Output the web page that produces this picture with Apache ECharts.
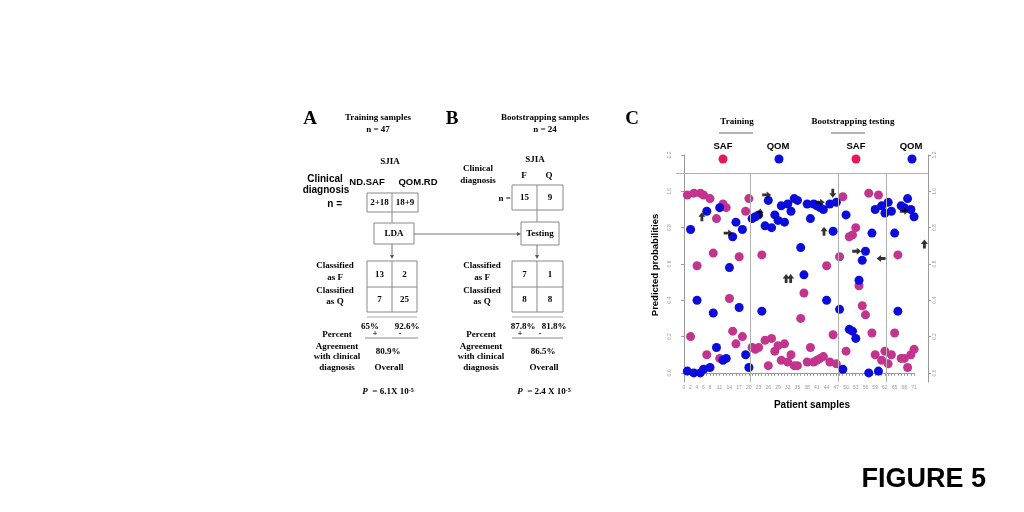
<!DOCTYPE html>
<html><head><meta charset="utf-8">
<script src="https://cdn.jsdelivr.net/npm/echarts@6/dist/echarts.min.js"></script>
<style>html,body{margin:0;padding:0;background:#fff}#c{width:1024px;height:512px}</style>
</head><body><div id="c"></div>
<script>
// Panel C data: predicted probability of SAF (pink) and QOM (blue) for samples 1..71
const probSAF = [0.98,0.20,0.99,0.59,0.99,0.98,0.10,0.96,0.66,0.85,0.08,0.93,0.91,0.41,0.23,0.16,0.64,0.20,0.89,0.96,
  0.14,0.13,0.14,0.65,0.18,0.04,0.19,0.12,0.15,0.07,0.16,0.06,0.10,0.04,0.04,0.30,0.44,0.06,0.14,0.06,0.07,0.08,0.09,0.59,0.06,0.21,0.05,
  0.64,0.97,0.12,0.75,0.76,0.80,0.48,0.37,0.32,0.99,0.22,0.10,0.98,0.07,0.12,
  0.05,0.10,0.22,0.65,0.08,0.08,0.03,0.10,0.13];
const probQOM = [0.01,0.79,0.00,0.40,0.00,0.02,0.89,0.03,0.33,0.14,0.91,0.07,0.08,0.58,0.75,0.83,0.36,0.79,0.10,0.03,
  0.85,0.86,0.87,0.34,0.81,0.95,0.80,0.87,0.84,0.92,0.83,0.93,0.89,0.96,0.95,0.69,0.54,0.93,0.85,0.93,0.92,0.91,0.90,0.40,0.93,0.78,0.94,
  0.35,0.02,0.87,0.24,0.23,0.19,0.51,0.62,0.67,0.00,0.77,0.90,0.01,0.92,0.88,
  0.94,0.89,0.77,0.34,0.92,0.91,0.96,0.90,0.86];
// group boundaries (between samples)
const groupBounds = [20.5, 47.5, 62.5];
const topLineValue = 1.1;
const xTickLabels = [0,2,4,6,8,11,14,17,20,23,26,29,32,35,38,41,44,47,50,53,56,59,62,65,68,71];
const yTickValues = [0,0.2,0.4,0.6,0.8,1.0,1.2];
// annotation arrows: [sample position, probability, direction]
const arrowMarks = [[5.5,0.86,'up'],[13.6,0.77,'right'],[25.5,0.98,'right'],[23.5,0.88,'up'],[45.9,0.99,'down'],
  [42,0.94,'right'],[43.2,0.78,'up'],[31.5,0.52,'up'],[32.9,0.52,'up'],[53.3,0.67,'right'],[60.8,0.63,'left'],
  [68,0.89,'right'],[74.2,0.71,'up']];

const PINK = '#c2348e', BLUE = '#0b0bdc', LPINK = '#e6175f';
const SERIF = '"Liberation Serif", "DejaVu Serif", serif';
const SANS = '"Liberation Sans", Arial, sans-serif';
const rotMap = {right:0, up:90, left:180, down:-90};

function T(x, y, text, o) {
  o = o || {};
  return {type:'text', x:x, y:y, rotation:o.rot||0, silent:true, style:{
    x:0, y:0, text:text, fill:o.fill||'#000',
    fontFamily:o.ff||SERIF, fontSize:o.fs||9, fontWeight:o.fw||'bold', fontStyle:o.fst||'normal',
    textAlign:o.align||'center', textVerticalAlign:'middle', rich:o.rich}};
}
function L(x1,y1,x2,y2,c){ return {type:'line', silent:true, shape:{x1,y1,x2,y2}, style:{stroke:c||'#888', lineWidth:1}}; }
function R(x,y,w,h){ return {type:'rect', silent:true, shape:{x,y,width:w,height:h}, style:{fill:'none', stroke:'#888', lineWidth:1}}; }
function headDown(x,y){ return {type:'polygon', silent:true, shape:{points:[[x-2,y-4],[x+2,y-4],[x,y]]}, style:{fill:'#555'}}; }
function headRight(x,y){ return {type:'polygon', silent:true, shape:{points:[[x-4,y-2],[x-4,y+2],[x,y]]}, style:{fill:'#555'}}; }
const S = {fs:9};
const sans = {ff:SANS, fs:9.5};
const pRich = {i:{fontFamily:SERIF, fontSize:9, fontWeight:'bold', fontStyle:'italic'},
               n:{fontFamily:SERIF, fontSize:9, fontWeight:'bold'},
               s:{fontFamily:SERIF, fontSize:6, fontWeight:'bold', verticalAlign:'top'}};

const g = [
  // ---- Panel A ----
  T(310,119,'A',{fs:19}),
  T(378,118,'Training samples'), T(378,130,'n = 47'),
  T(390,162,'SJIA'),
  T(325,179,'Clinical',{ff:SANS,fs:10}), T(326,190,'diagnosis',{ff:SANS,fs:10}), T(342,204,'n =',{ff:SANS,fs:10,align:'right'}),
  T(367,182,'ND.SAF',sans), T(418,182,'QOM.RD',sans),
  R(367,193,51,19), L(392,193,392,212),
  T(379.5,202.5,'2+18'), T(405,202.5,'18+9'),
  L(392,212,392,223),
  R(374,223,40,21), T(394,234,'LDA'),
  L(414,234,519,234,'#777'), headRight(521,234),
  L(392,244,392,255,'#777'), headDown(392,259),
  R(367,261,50,51), L(367,287,417,287), L(392,261,392,312),
  T(379.5,275,'13'), T(404.5,275,'2'), T(379.5,300,'7'), T(404.5,300,'25'),
  T(335,266,'Classified'), T(335,278,'as F'), T(335,291,'Classified'), T(335,302,'as Q'),
  L(367,317,417,317,'#aaa'),
  T(370,327,'65%'), T(407,327,'92.6%'),
  T(337,335,'Percent'), T(375,334,'+'), T(400,334,'-'),
  L(365,338,418,338,'#888'),
  T(337,347,'Agreement'), T(337,357,'with clinical'), T(337,368,'diagnosis'),
  T(388,352,'80.9%'), T(389,368,'Overall'),
  T(388,392,'{i|P} {n| = 6.1X 10}{s|-5}',{rich:pRich}),
  // ---- Panel B ----
  T(452,119,'B',{fs:19}),
  T(545,118,'Bootstrapping samples'), T(545,130,'n = 24'),
  T(535,160,'SJIA'),
  T(478,169,'Clinical'), T(478,181,'diagnosis'),
  T(524,176,'F'), T(549,176,'Q'),
  T(511,199,'n =',{align:'right'}),
  R(512,185,51,25), L(537,185,537,210),
  T(524.5,198,'15'), T(550,198,'9'),
  L(537,210,537,222),
  R(521,222,38,23), T(540,234,'Testing'),
  L(537,245,537,255,'#777'), headDown(537,259),
  R(512,261,51,51), L(512,287,563,287), L(537,261,537,312),
  T(524.5,275,'7'), T(550,275,'1'), T(524.5,300,'8'), T(550,300,'8'),
  T(482,266,'Classified'), T(482,278,'as F'), T(482,291,'Classified'), T(482,302,'as Q'),
  L(512,317,563,317,'#aaa'),
  T(523,327,'87.8%'), T(554,327,'81.8%'),
  T(481,335,'Percent'), T(520,334,'+'), T(540,334,'-'),
  L(512,338,563,338,'#888'),
  T(481,347,'Agreement'), T(481,357,'with clinical'), T(481,368,'diagnosis'),
  T(543,352,'86.5%'), T(544,368,'Overall'),
  T(544,392,'{i|P} {n| = 2.4 X 10}{s|-5}',{rich:pRich}),
  // ---- Panel C decorations ----
  T(632,119,'C',{fs:19}),
  T(737,122,'Training'), L(719,133,753,133,'#666'),
  T(853,122,'Bootstrapping testing'), L(831,133,865,133,'#666'),
  T(723,146,'SAF',sans), {type:'circle', silent:true, shape:{cx:723,cy:159,r:4.5}, style:{fill:LPINK}},
  T(778,146,'QOM',sans), {type:'circle', silent:true, shape:{cx:779,cy:159,r:4.5}, style:{fill:BLUE}},
  T(856,146,'SAF',sans), {type:'circle', silent:true, shape:{cx:856,cy:159,r:4.5}, style:{fill:LPINK}},
  T(911,146,'QOM',sans), {type:'circle', silent:true, shape:{cx:912,cy:159,r:4.5}, style:{fill:BLUE}},
  T(655,265,'Predicted probabilities',{ff:SANS,fs:9.5,rot:Math.PI/2}),
  T(812,405,'Patient samples',{ff:SANS,fs:10}),
  T(986,480,'FIGURE 5',{ff:SANS,fs:27,align:'right'})
];

const chart = echarts.init(document.getElementById('c'), null, {renderer:'canvas'});
const axisGray = '#9a9a9a';
const yAxisCommon = {
  type:'value', min:-0.05, max:1.2, gridIndex:0,
  axisLine:{show:true, lineStyle:{color:axisGray}},
  axisTick:{show:true, customValues:yTickValues, length:3, lineStyle:{color:axisGray}},
  axisLabel:{customValues:yTickValues, rotate:90, fontSize:5, color:'#999', margin:4, formatter:v=>v.toFixed(1)},
  splitLine:{show:false}
};
chart.setOption({
  animation:false,
  backgroundColor:'#fff',
  grid:[{left:676, top:155, width:252, height:227},
        {left:684, top:155, width:230, height:227}],
  xAxis:[
    {gridIndex:0, type:'value', min:-2.5, max:75.3, show:false},
    {gridIndex:1, type:'value', min:0, max:71, interval:1,
     axisLine:{show:true, lineStyle:{color:axisGray}},
     axisTick:{show:true, length:3, lineStyle:{color:axisGray}},
     axisLabel:{fontSize:5, color:'#999', margin:3, formatter:v=>xTickLabels.includes(v)?String(v):''},
     splitLine:{show:false}}
  ],
  yAxis:[
    Object.assign({}, yAxisCommon, {position:'left'}),
    Object.assign({}, yAxisCommon, {position:'right'}),
    {gridIndex:1, type:'value', min:-0.05, max:1.2, show:false}
  ],
  series:[
    {type:'scatter', xAxisIndex:0, yAxisIndex:0, data:[], z:1, silent:true,
     markLine:{silent:true, symbol:'none', animation:false, label:{show:false},
       lineStyle:{color:'#b0b0b0', width:1, type:'solid'},
       data:[{yAxis:topLineValue}].concat(groupBounds.map(b=>[{coord:[b,topLineValue]},{coord:[b,-0.05]}]))}},
    {name:'SAF', type:'scatter', xAxisIndex:0, yAxisIndex:0, z:3, symbolSize:9, itemStyle:{color:PINK, opacity:1},
     data:probSAF.map((v,i)=>[i+1,v])},
    {name:'QOM', type:'scatter', xAxisIndex:0, yAxisIndex:0, z:4, symbolSize:9, itemStyle:{color:BLUE, opacity:1},
     data:probQOM.map((v,i)=>[i+1,v])},
    {type:'scatter', xAxisIndex:0, yAxisIndex:0, z:5, silent:true,
     symbol:'path://M0,3 L5,3 L5,0 L10,5 L5,10 L5,7 L0,7 Z', symbolSize:[9,7], itemStyle:{color:'#000'},
     data:arrowMarks.map(a=>({value:[a[0],a[1]], symbolRotate:rotMap[a[2]]}))}
  ],
  graphic:g
});
</script></body></html>
